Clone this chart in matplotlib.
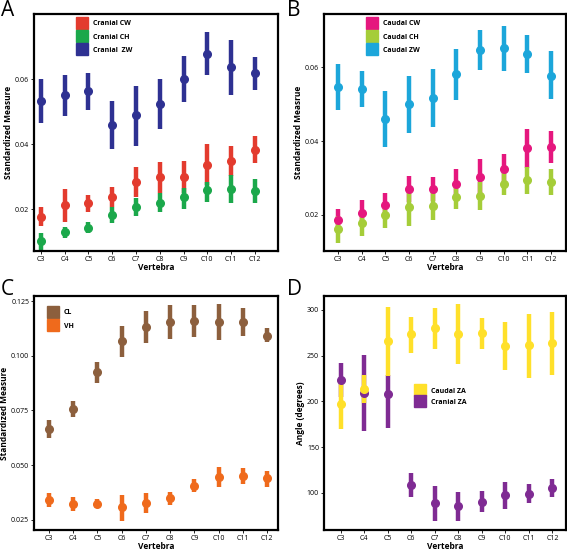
import numpy as np
import matplotlib
matplotlib.use("Agg")
import matplotlib.pyplot as plt
from matplotlib.lines import Line2D

plt.rcParams['font.family'] = ['Open Sans', 'DejaVu Sans']

vertebrae = ['C3', 'C4', 'C5', 'C6', 'C7', 'C8', 'C9', 'C10', 'C11', 'C12']

# Panel A - cranial measures (mean, lower, upper)
cran_cw = [0.0176, 0.0212, 0.0217, 0.0238, 0.0283, 0.0297, 0.0298, 0.0335, 0.0349, 0.0382]
cran_cw_lo = [0.0148, 0.0161, 0.0190, 0.0207, 0.0238, 0.0248, 0.0248, 0.0274, 0.0303, 0.0341]
cran_cw_hi = [0.0205, 0.0263, 0.0242, 0.0269, 0.0328, 0.0344, 0.0349, 0.0401, 0.0395, 0.0424]
cran_ch = [0.0103, 0.0130, 0.0143, 0.0182, 0.0207, 0.0219, 0.0237, 0.0258, 0.0263, 0.0256]
cran_ch_lo = [0.0070, 0.0112, 0.0126, 0.0156, 0.0179, 0.0190, 0.0200, 0.0222, 0.0220, 0.0220]
cran_ch_hi = [0.0125, 0.0146, 0.0159, 0.0207, 0.0233, 0.0248, 0.0264, 0.0284, 0.0305, 0.0292]
cran_zw = [0.0533, 0.0550, 0.0563, 0.0460, 0.0489, 0.0524, 0.0600, 0.0678, 0.0638, 0.0617]
cran_zw_lo = [0.0464, 0.0486, 0.0505, 0.0386, 0.0395, 0.0447, 0.0530, 0.0611, 0.0552, 0.0565]
cran_zw_hi = [0.0599, 0.0613, 0.0618, 0.0533, 0.0579, 0.0600, 0.0670, 0.0744, 0.0721, 0.0667]

# Panel B - caudal measures
caud_cw = [0.0187, 0.0206, 0.0228, 0.0270, 0.0270, 0.0283, 0.0304, 0.0324, 0.0380, 0.0384]
caud_cw_lo = [0.0159, 0.0173, 0.0196, 0.0234, 0.0238, 0.0242, 0.0257, 0.0284, 0.0326, 0.0340]
caud_cw_hi = [0.0217, 0.0240, 0.0260, 0.0305, 0.0303, 0.0325, 0.0351, 0.0364, 0.0433, 0.0428]
caud_ch = [0.0161, 0.0179, 0.0201, 0.0221, 0.0224, 0.0248, 0.0251, 0.0284, 0.0295, 0.0288]
caud_ch_lo = [0.0123, 0.0144, 0.0166, 0.0169, 0.0187, 0.0217, 0.0214, 0.0253, 0.0257, 0.0254]
caud_ch_hi = [0.0196, 0.0212, 0.0235, 0.0277, 0.0268, 0.0281, 0.0290, 0.0317, 0.0331, 0.0325]
caud_zw = [0.0546, 0.0540, 0.0460, 0.0500, 0.0517, 0.0581, 0.0647, 0.0651, 0.0636, 0.0577]
caud_zw_lo = [0.0484, 0.0492, 0.0384, 0.0423, 0.0437, 0.0512, 0.0592, 0.0591, 0.0584, 0.0515]
caud_zw_hi = [0.0608, 0.0589, 0.0535, 0.0577, 0.0595, 0.0650, 0.0700, 0.0712, 0.0687, 0.0643]

# Panel C - centrum length / vertebral height
cl = [0.0667, 0.0755, 0.0925, 0.1065, 0.1132, 0.1154, 0.1159, 0.1153, 0.1154, 0.1092]
cl_lo = [0.0625, 0.0719, 0.0875, 0.0992, 0.1057, 0.1077, 0.1085, 0.1072, 0.1091, 0.1063]
cl_hi = [0.0708, 0.0792, 0.0973, 0.1136, 0.1204, 0.1232, 0.1232, 0.1235, 0.1217, 0.1126]
vh = [0.0341, 0.0323, 0.0323, 0.0306, 0.0326, 0.0349, 0.0406, 0.0446, 0.0450, 0.0440]
vh_lo = [0.0306, 0.0288, 0.0302, 0.0246, 0.0283, 0.0318, 0.0376, 0.0400, 0.0412, 0.0400]
vh_hi = [0.0374, 0.0356, 0.0343, 0.0365, 0.0371, 0.0379, 0.0434, 0.0491, 0.0485, 0.0473]

# Panel D - zygapophyseal angles
caud_za = [197.6, 213.6, 265.5, 273.5, 280.0, 273.5, 274.6, 260.8, 261.2, 263.7]
caud_za_lo = [170.0, 198.0, 228.0, 252.8, 257.5, 240.8, 257.5, 234.0, 225.6, 229.2]
caud_za_hi = [225.6, 229.0, 302.9, 292.7, 302.5, 306.2, 291.6, 286.6, 295.6, 297.5]
cran_za = [223.4, 209.3, 208.2, 108.7, 88.4, 85.1, 89.9, 97.5, 99.3, 105.8]
cran_za_lo = [205.0, 167.5, 170.4, 95.0, 69.5, 69.5, 78.6, 82.2, 88.4, 95.6]
cran_za_hi = [242.0, 251.0, 229.2, 122.2, 107.0, 100.4, 101.5, 112.3, 109.4, 115.6]

W, H = 567, 551
fig = plt.figure(figsize=(W / 100, H / 100), dpi=100)


def make_axes(l, t, r, b):
    return fig.add_axes([l / W, 1 - b / H, (r - l) / W, (b - t) / H])


def draw_series(ax, mean, lo, hi, color, label):
    x = np.arange(len(mean))
    mean = np.array(mean)
    yerr = [mean - np.array(lo), np.array(hi) - mean]
    ax.errorbar(x, mean, yerr=yerr, fmt='o', color=color, ecolor=color,
                elinewidth=3.2, markersize=5.5, capsize=0, label=label)


def style(ax, xlim, ylim, yticks, yticklabels, ylabel):
    ax.set_xlim(*xlim)
    ax.set_ylim(*ylim)
    ax.set_xticks(np.arange(len(vertebrae)))
    ax.set_xticklabels(vertebrae)
    ax.set_yticks(yticks)
    ax.set_yticklabels(yticklabels)
    ax.tick_params(labelsize=5, length=2, width=0.6, pad=1.5)
    for s in ax.spines.values():
        s.set_linewidth(1.6)
    ax.set_xlabel('Vertebra', fontsize=6, fontweight='bold', labelpad=0)
    ax.set_ylabel(ylabel, fontsize=6, fontweight='bold', labelpad=1.5)


def add_legend(ax, colors, labels, anchor, spacing=0.9):
    handles = [Line2D([], [], marker='s', ls='', color=c, markersize=8.5) for c in colors]
    ax.legend(handles, labels, loc='upper left', bbox_to_anchor=anchor,
              frameon=False, handletextpad=0.9, handlelength=1.2,
              labelspacing=spacing, borderaxespad=0, prop={'weight': 'bold', 'size': 5})


# A
axA = make_axes(34, 14, 278, 251)
draw_series(axA, cran_cw, cran_cw_lo, cran_cw_hi, '#e33b2e', 'Cranial CW')
draw_series(axA, cran_ch, cran_ch_lo, cran_ch_hi, '#1ba84b', 'Cranial CH')
draw_series(axA, cran_zw, cran_zw_lo, cran_zw_hi, '#2e3192', 'Cranial  ZW')
style(axA, (-0.29, 9.97), (0.00708, 0.080), [0.02, 0.04, 0.06],
      ['0.02', '0.04', '0.06'], 'Standardized Measure')
add_legend(axA, ['#e33b2e', '#1ba84b', '#2e3192'],
           ['Cranial CW', 'Cranial CH', 'Cranial  ZW'], (0.17, 0.985))

# B
axB = make_axes(324, 14, 566, 251)
draw_series(axB, caud_cw, caud_cw_lo, caud_cw_hi, '#e5177e', 'Caudal CW')
draw_series(axB, caud_ch, caud_ch_lo, caud_ch_hi, '#a5cd39', 'Caudal CH')
draw_series(axB, caud_zw, caud_zw_lo, caud_zw_hi, '#1ca6da', 'Caudal ZW')
style(axB, (-0.59, 9.63), (0.01025, 0.0744), [0.02, 0.04, 0.06],
      ['0.02', '0.04', '0.06'], 'Standardized Measrue')
add_legend(axB, ['#e5177e', '#a5cd39', '#1ca6da'],
           ['Caudal CW', 'Caudal CH', 'Caudal ZW'], (0.17, 0.985))

# C
axC = make_axes(34, 296, 278, 530)
draw_series(axC, cl, cl_lo, cl_hi, '#8c5f3d', 'CL')
draw_series(axC, vh, vh_lo, vh_hi, '#ef6a1c', 'VH')
style(axC, (-0.62, 9.45), (0.0203, 0.1273), [0.025, 0.050, 0.075, 0.100, 0.125],
      ['0.025', '0.050', '0.075', '0.100', '0.125'], 'Standardized Measure')
add_legend(axC, ['#8c5f3d', '#ef6a1c'], ['CL', 'VH'], (0.05, 0.955))

# D
axD = make_axes(324, 296, 566, 530)
draw_series(axD, cran_za, cran_za_lo, cran_za_hi, '#7f2b93', 'Cranial ZA')
draw_series(axD, caud_za, caud_za_lo, caud_za_hi, '#ffe02a', 'Caudal ZA')
style(axD, (-0.71, 9.58), (59.4, 315.2), [100, 150, 200, 250, 300],
      ['100', '150', '200', '250', '300'], 'Angle (degrees)')
add_legend(axD, ['#ffe02a', '#7f2b93'], ['Caudal ZA', 'Cranial ZA'], (0.37, 0.62), spacing=0.6)

for letter, x, y in [('A', 1, 0), ('B', 287, 0), ('C', 1, 279), ('D', 287, 279)]:
    fig.text(x / W, 1 - y / H, letter, fontsize=15, va='top', ha='left')

fig.savefig('out.png', dpi=100)
